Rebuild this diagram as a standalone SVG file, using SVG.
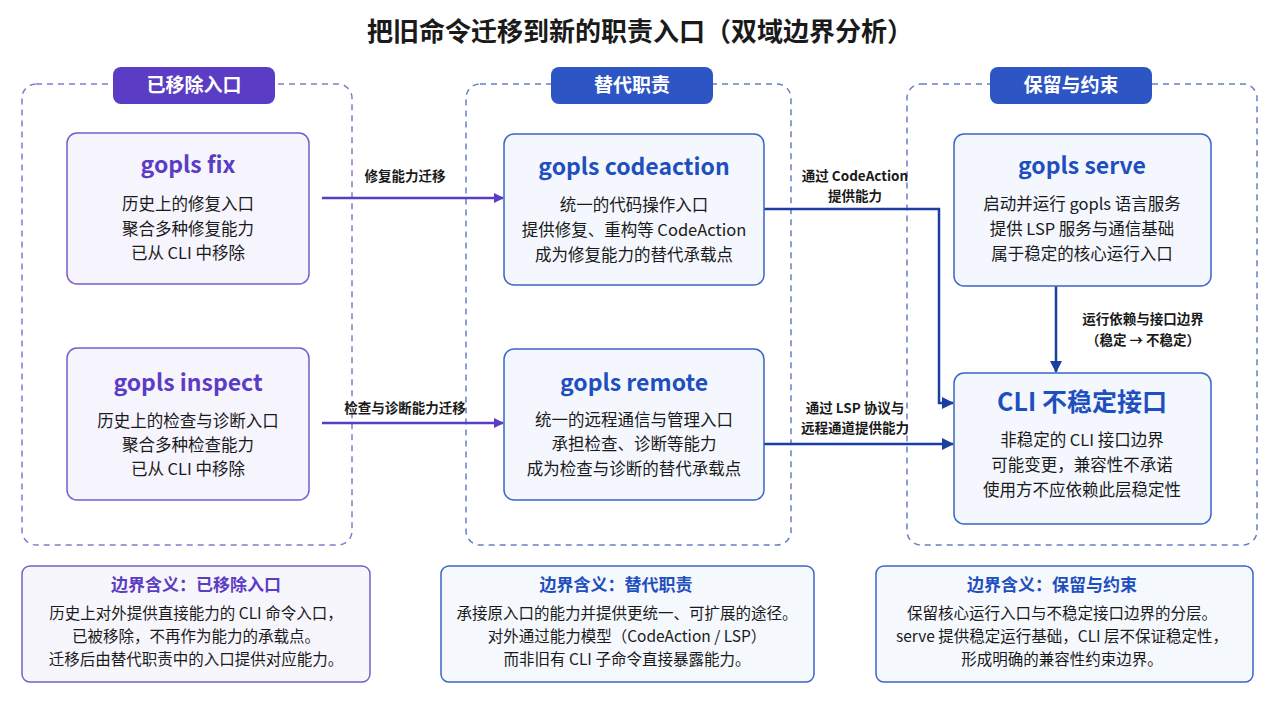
<svg xmlns="http://www.w3.org/2000/svg" width="1280" height="702" viewBox="0 0 1280 702">
<defs>
<style>
text{font-family:"Noto Sans CJK SC","Noto Sans",sans-serif;text-anchor:middle;fill:#1a1a1a}
.grp{fill:none;stroke:#6a7fc8;stroke-width:1.5;stroke-dasharray:6 5}
.grpP{fill:none;stroke:#8a78c8;stroke-width:1.5;stroke-dasharray:6 5}
.pill{font-size:19px;font-weight:bold;fill:#fff}
.np{fill:#f6f4fd;stroke:#7a5cc8;stroke-width:1.5}
.nb{fill:#f4f7fd;stroke:#3a66c4;stroke-width:1.5}
.tp{font-size:23px;font-weight:bold;fill:#5b3cc4}
.tb{font-size:23px;font-weight:bold;fill:#1f4fbf}
.body{font-size:16.5px}
.nt{font-size:15.5px}
.lbl{font-size:13.5px;font-weight:bold}
.bt{font-size:17px;font-weight:bold}
.cp{fill:none;stroke:#5b3cc4;stroke-width:2.5}
.cb{fill:none;stroke:#1a3fa0;stroke-width:2.5}
</style>
<marker id="ap" markerWidth="10" markerHeight="10" refX="9" refY="5" orient="auto" markerUnits="userSpaceOnUse" viewBox="0 0 10 10"><path d="M0,0 L10,5 L0,10 z" fill="#5b3cc4"/></marker>
<marker id="ab" markerWidth="12" markerHeight="12" refX="11" refY="6" orient="auto" markerUnits="userSpaceOnUse" viewBox="0 0 12 12"><path d="M0,0 L12,6 L0,12 z" fill="#1a3fa0"/></marker>
</defs>
<rect width="1280" height="702" fill="#fff"/>
<text x="640" y="41" style="font-size:26px;font-weight:bold">把旧命令迁移到新的职责入口（双域边界分析）</text>

<g id="group-removed"><rect class="grpP" x="22" y="84" width="330" height="461" rx="14"/><rect x="113" y="67" width="162" height="37" rx="8" fill="#5b3cc4"/><text class="pill" x="194" y="92">已移除入口</text></g>
<g id="group-replace"><rect class="grp" x="466" y="84" width="325" height="461" rx="14"/><rect x="551" y="67" width="162" height="37" rx="8" fill="#2d55c4"/><text class="pill" x="632" y="92">替代职责</text></g>
<g id="group-keep"><rect class="grp" x="907" y="84" width="350" height="461" rx="14"/><rect x="990" y="67" width="162" height="37" rx="8" fill="#2d55c4"/><text class="pill" x="1071" y="92">保留与约束</text></g>

<g id="connectors">
<path class="cp" d="M322,198 H503" marker-end="url(#ap)"/>
<text class="lbl" x="405" y="181">修复能力迁移</text>
<path class="cp" d="M322,423 H503" marker-end="url(#ap)"/>
<text class="lbl" x="405" y="413">检查与诊断能力迁移</text>
<path class="cb" d="M764,209 H939 V403 H953" marker-end="url(#ab)"/>
<text class="lbl" x="855" y="181">通过 CodeAction</text>
<text class="lbl" x="855" y="201">提供能力</text>
<path class="cb" d="M764,444 H953" marker-end="url(#ab)"/>
<text class="lbl" x="855" y="413">通过 LSP 协议与</text>
<text class="lbl" x="855" y="433">远程通道提供能力</text>
<path class="cb" d="M1056,286 V372" marker-end="url(#ab)"/>
<text class="lbl" x="1143" y="324">运行依赖与接口边界</text>
<text class="lbl" x="1143" y="345">（稳定 → 不稳定）</text>
</g>

<g id="node-fix"><rect class="np" x="67" y="133" width="242" height="151" rx="10"/><text class="tp" x="188" y="173">gopls fix</text><text class="body" x="188" y="210">历史上的修复入口</text><text class="body" x="188" y="235">聚合多种修复能力</text><text class="body" x="188" y="259">已从 CLI 中移除</text></g>
<g id="node-inspect"><rect class="np" x="67" y="348" width="242" height="152" rx="10"/><text class="tp" x="188" y="391">gopls inspect</text><text class="body" x="188" y="427">历史上的检查与诊断入口</text><text class="body" x="188" y="451">聚合多种检查能力</text><text class="body" x="188" y="475">已从 CLI 中移除</text></g>
<g id="node-codeaction"><rect class="nb" x="504" y="134" width="260" height="151" rx="10"/><text class="tb" x="634" y="175">gopls codeaction</text><text class="body" x="634" y="211">统一的代码操作入口</text><text class="body" x="634" y="236">提供修复、重构等 CodeAction</text><text class="body" x="634" y="261">成为修复能力的替代承载点</text></g>
<g id="node-remote"><rect class="nb" x="504" y="349" width="260" height="151" rx="10"/><text class="tb" x="634" y="391">gopls remote</text><text class="body" x="634" y="426">统一的远程通信与管理入口</text><text class="body" x="634" y="450">承担检查、诊断等能力</text><text class="body" x="634" y="475">成为检查与诊断的替代承载点</text></g>
<g id="node-serve"><rect class="nb" x="954" y="134" width="257" height="152" rx="10"/><text class="tb" x="1082" y="174">gopls serve</text><text class="body" x="1082" y="210">启动并运行 gopls 语言服务</text><text class="body" x="1082" y="235">提供 LSP 服务与通信基础</text><text class="body" x="1082" y="260">属于稳定的核心运行入口</text></g>
<g id="node-cli"><rect class="nb" x="954" y="373" width="257" height="151" rx="10"/><text class="tb" x="1082" y="411" style="font-size:25px">CLI 不稳定接口</text><text class="body" x="1082" y="446">非稳定的 CLI 接口边界</text><text class="body" x="1082" y="471">可能变更，兼容性不承诺</text><text class="body" x="1082" y="496">使用方不应依赖此层稳定性</text></g>

<g id="note-removed"><rect x="22" y="566" width="348" height="116" rx="8" fill="#f8f6fd" stroke="#7a5cc8" stroke-width="1.5"/><text class="bt" x="196" y="591" style="fill:#5b3cc4">边界含义：已移除入口</text><text class="nt" x="196" y="619">历史上对外提供直接能力的 CLI 命令入口，</text><text class="nt" x="196" y="642">已被移除，不再作为能力的承载点。</text><text class="nt" x="196" y="665">迁移后由替代职责中的入口提供对应能力。</text></g>
<g id="note-replace"><rect x="441" y="566" width="373" height="116" rx="8" fill="#f5f8fd" stroke="#3a66c4" stroke-width="1.5"/><text class="bt" x="616" y="591" style="fill:#1f4fbf">边界含义：替代职责</text><text class="nt" x="627" y="619">承接原入口的能力并提供更统一、可扩展的途径。</text><text class="nt" x="627" y="642">对外通过能力模型（CodeAction / LSP）</text><text class="nt" x="627" y="665">而非旧有 CLI 子命令直接暴露能力。</text></g>
<g id="note-keep"><rect x="876" y="566" width="377" height="116" rx="8" fill="#f5f8fd" stroke="#3a66c4" stroke-width="1.5"/><text class="bt" x="1052" y="591" style="fill:#1f4fbf">边界含义：保留与约束</text><text class="nt" x="1062" y="619">保留核心运行入口与不稳定接口边界的分层。</text><text class="nt" x="1062" y="642">serve 提供稳定运行基础，CLI 层不保证稳定性，</text><text class="nt" x="1062" y="665">形成明确的兼容性约束边界。</text></g>
</svg>
